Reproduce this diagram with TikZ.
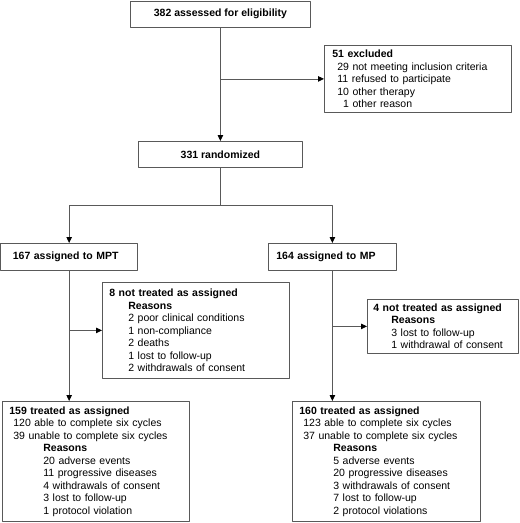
\documentclass[tikz,border=0pt]{standalone}
\usepackage{fontspec}
\setmainfont{Liberation Sans}
\usetikzlibrary{arrows.meta,calc}
\definecolor{linegray}{gray}{0.35}
\tikzset{
  box/.style={draw=linegray, line width=0.8pt, anchor=north west, align=left, inner ysep=0pt, inner xsep=7pt},
  link/.style={draw=linegray, line width=0.8pt},
  arr/.style={link, -{Triangle[length=6pt,width=5.5pt,color=black]}}
}
\begin{document}
\begin{tikzpicture}[x=1pt, y=-1pt, font=\fontsize{10.5}{12.5}\selectfont, line join=round]
\useasboundingbox (0,0) rectangle (520,523);
\node[box, align=center, minimum width=180pt, minimum height=26pt] (elig) at (130,0.5) {\textbf{382 assessed for eligibility}};
\node[box, minimum width=187pt, minimum height=67pt, inner xsep=8pt, text width=171pt] (excl) at (324,45) {\textbf{51 excluded}\\
\hspace*{5pt}29 not meeting inclusion criteria\\
\hspace*{5pt}11 refused to participate\\
\hspace*{5pt}10 other therapy\\
\hspace*{5pt}\phantom{1}1 other reason};
\node[box, align=center, minimum width=164pt, minimum height=26pt] (rand) at (138,141) {\textbf{331 randomized}};
\node[box, minimum width=136.5pt, minimum height=27pt, inner xsep=12pt, text width=112.5pt] (mpt) at (0.5,243) {\textbf{167 assigned to MPT}};
\node[box, minimum width=128pt, minimum height=27pt, inner xsep=8pt, text width=112pt] (mp) at (268,243) {\textbf{164 assigned to MP}};
\node[box, minimum width=187pt, minimum height=96pt, text width=173pt] (nt1) at (102,282) {\textbf{8 not treated as assigned}\\
\hspace*{19pt}\textbf{Reasons}\\
\hspace*{19pt}2 poor clinical conditions\\
\hspace*{19pt}1 non-compliance\\
\hspace*{19pt}2 deaths\\
\hspace*{19pt}1 lost to follow-up\\
\hspace*{19pt}2 withdrawals of consent};
\node[box, minimum width=151pt, minimum height=54pt, inner xsep=6pt, text width=139pt] (nt2) at (367,299) {\textbf{4 not treated as assigned}\\
\hspace*{18pt}\textbf{Reasons}\\
\hspace*{18pt}3 lost to follow-up\\
\hspace*{18pt}1 withdrawal of consent};
\node[box, minimum width=187pt, minimum height=120pt, text width=173pt] (tr1) at (2,401) {\textbf{159 treated as assigned}\\
\hspace*{4pt}120 able to complete six cycles\\
\hspace*{4pt}39 unable to complete six cycles\\
\hspace*{34pt}\textbf{Reasons}\\
\hspace*{34pt}20 adverse events\\
\hspace*{34pt}11 progressive diseases\\
\hspace*{34pt}4 withdrawals of consent\\
\hspace*{34pt}3 lost to follow-up\\
\hspace*{34pt}1 protocol violation};
\node[box, minimum width=188pt, minimum height=120pt, text width=174pt] (tr2) at (292,401) {\textbf{160 treated as assigned}\\
\hspace*{4pt}123 able to complete six cycles\\
\hspace*{4pt}37 unable to complete six cycles\\
\hspace*{34pt}\textbf{Reasons}\\
\hspace*{34pt}5 adverse events\\
\hspace*{34pt}20 progressive diseases\\
\hspace*{34pt}3 withdrawals of consent\\
\hspace*{34pt}7 lost to follow-up\\
\hspace*{34pt}2 protocol violations};
\coordinate (ex) at (elig.south |- excl.west);
\coordinate (split) at ($(rand.south)+(0,38)$);
\draw[arr] (elig.south) -- (rand.north);
\draw[arr] (ex) -- (excl.west);
\draw[link] (rand.south) -- (split);
\draw[arr] (split) -| (mpt.north);
\draw[arr] (split) -| (mp.north);
\draw[arr] (mpt.south) -- (mpt.south |- tr1.north);
\draw[arr] (mpt.south |- nt1.west) -- (nt1.west);
\draw[arr] (mp.south) -- (mp.south |- tr2.north);
\draw[arr] (mp.south |- nt2.west) -- (nt2.west);
\end{tikzpicture}
\end{document}
